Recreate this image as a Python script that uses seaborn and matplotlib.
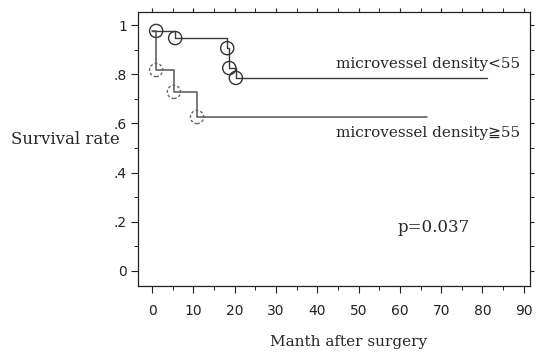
import matplotlib
matplotlib.use("Agg")
import matplotlib.pyplot as plt
import seaborn as sns
import pandas as pd
from matplotlib.ticker import MultipleLocator, FixedLocator

# Step curves (time in months, survival rate)
low_t = [0.0, 1.0, 5.6, 18.2, 18.7, 20.3, 81.0]
low_s = [0.976, 0.976, 0.947, 0.906, 0.825, 0.785, 0.785]
high_t = [0.0, 1.0, 5.3, 10.9, 66.6]
high_s = [0.976, 0.817, 0.728, 0.626, 0.626]

# Event circles
low_ev_t = [1.0, 5.6, 18.2, 18.7, 20.3]
low_ev_s = [0.976, 0.947, 0.906, 0.825, 0.785]
high_ev_t = [1.0, 5.3, 10.9]
high_ev_s = [0.817, 0.728, 0.626]

x_ticks = [0, 10, 20, 30, 40, 50, 60, 70, 80, 90]
y_ticks = [0, 0.2, 0.4, 0.6, 0.8, 1.0]
y_tick_labels = ["0", ".2", ".4", ".6", ".8", "1"]

sns.set_style("ticks")
serif = ["DejaVu Serif", "DejaVu Sans"]
plt.rcParams["font.family"] = ["DejaVu Sans"]

fig = plt.figure(figsize=(5.42, 3.54), dpi=100)
ax = fig.add_axes([0.2546, 0.1921, 0.7232, 0.774])

df_low = pd.DataFrame({"t": low_t, "s": low_s})
df_high = pd.DataFrame({"t": high_t, "s": high_s})
sns.lineplot(data=df_low, x="t", y="s", drawstyle="steps-post", color="#3a3a3a",
             linewidth=1.0, ax=ax, estimator=None, sort=False)
sns.lineplot(data=df_high, x="t", y="s", drawstyle="steps-post", color="#555555",
             linewidth=1.1, ax=ax, estimator=None, sort=False)

sns.scatterplot(x=low_ev_t, y=low_ev_s, s=90, facecolor="none", edgecolor="#333333",
                linewidth=1.0, ax=ax, zorder=3)
sns.scatterplot(x=high_ev_t, y=high_ev_s, s=90, facecolor="none", edgecolor="#666666",
                linewidth=1.0, linestyle=(0, (2, 1.5)), ax=ax, zorder=3)

ax.set_xlim(-3.4, 91.5)
ax.set_ylim(-0.061, 1.053)
ax.xaxis.set_major_locator(FixedLocator(x_ticks))
ax.xaxis.set_minor_locator(MultipleLocator(5))
ax.yaxis.set_major_locator(FixedLocator(y_ticks))
ax.yaxis.set_minor_locator(MultipleLocator(0.1))
ax.set_yticklabels(y_tick_labels)

for sp in ax.spines.values():
    sp.set_visible(True)
    sp.set_linewidth(0.9)
    sp.set_color("#222222")

ax.tick_params(axis="both", which="major", direction="out", length=5, width=0.8,
               labelsize=10, colors="#222222")
ax.tick_params(axis="x", which="major", pad=8)
ax.tick_params(axis="y", which="major", pad=3)
ax.tick_params(axis="both", which="minor", direction="out", length=3, width=0.7,
               colors="#222222")
ax.tick_params(axis="x", which="both", top=True, labeltop=False)
ax.tick_params(axis="y", which="both", right=True, labelright=False)
for t in ax.xaxis.get_major_ticks():
    t.tick2line.set_markersize(3)
for t in ax.yaxis.get_major_ticks():
    t.tick2line.set_markersize(3)

ax.set_xlabel("")
ax.set_ylabel("")
fig.text(11 / 542, 1 - 140 / 354, "Survival rate", family=serif, fontsize=12,
         ha="left", va="center")
fig.text(349 / 542, 1 - 342 / 354, "Manth after surgery", family=serif, fontsize=11,
         ha="center", va="center")

ax.text(89.2, 0.84, "microvessel density<55", family=serif, fontsize=11,
        ha="right", va="center")
ax.text(89.2, 0.56, "microvessel density\u226755", family=serif, fontsize=11,
        ha="right", va="center")
ax.text(68.3, 0.175, "p=0.037", family=serif, fontsize=12, ha="center", va="center")

fig.savefig("out.png", dpi=100)
